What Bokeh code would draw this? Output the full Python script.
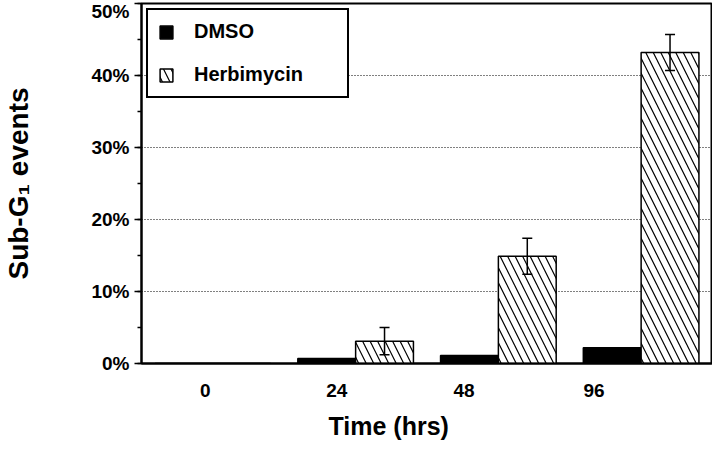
from bokeh.plotting import figure
from bokeh.models import (ColumnDataSource, Range1d, FixedTicker, SingleIntervalTicker,
                          PrintfTickFormatter, Whisker, TeeHead, Legend, LegendItem, Title)
from bokeh.embed import file_html
from bokeh.resources import INLINE

# ---- data ----
times = ["0", "24", "48", "96"]
dmso = [0.0, 0.7, 1.1, 2.2]
herb = [0.0, 3.1, 14.9, 43.2]
herb_err = [0.0, 1.9, 2.5, 2.5]
y_ticks = [0, 10, 20, 30, 40, 50]
# tick label positions as drawn in the original (slightly left of the groups)
x_label_pos = [0.447, 1.368, 2.26, 3.17]

FONT = "Liberation Sans"
group_centers = [i + 0.5 for i in range(len(times))]
bw = 0.405

src = ColumnDataSource(dict(
    xd=[c - bw / 2 for c in group_centers],
    xh=[c + bw / 2 for c in group_centers],
    dmso=dmso, herb=herb,
))
err_idx = [i for i, e in enumerate(herb_err) if e > 0]
err_src = ColumnDataSource(dict(
    x=[group_centers[i] + bw / 2 for i in err_idx],
    upper=[herb[i] + herb_err[i] for i in err_idx],
    lower=[herb[i] - herb_err[i] for i in err_idx],
))

p = figure(width=712, height=444, output_backend="svg", toolbar_location=None,
           x_range=Range1d(0, 4), y_range=Range1d(0, 50),
           min_border_left=133, min_border_right=0, min_border_top=3, min_border_bottom=81)
p.background_fill_color = "white"
p.border_fill_color = "white"
p.outline_line_color = "black"
p.outline_line_width = 2

r_d = p.vbar(x="xd", top="dmso", bottom=0, width=bw, source=src,
             fill_color="black", line_color="black", line_width=1.5)
r_h = p.vbar(x="xh", top="herb", bottom=0, width=bw, source=src,
             fill_color="white", line_color="black", line_width=1.5,
             hatch_pattern="\\", hatch_color="black", hatch_scale=15, hatch_weight=1.2)

wh = Whisker(base="x", upper="upper", lower="lower", source=err_src, level="overlay",
             line_color="black", line_width=1.5,
             upper_head=TeeHead(size=10, line_color="black", line_width=1.5),
             lower_head=TeeHead(size=10, line_color="black", line_width=1.5))
p.add_layout(wh)

# grid
p.xgrid.visible = False
p.ygrid.grid_line_color = "black"
p.ygrid.grid_line_dash = "1 2"
p.ygrid.grid_line_width = 1
p.ygrid.ticker = FixedTicker(ticks=y_ticks)

# y axis
p.yaxis.ticker = SingleIntervalTicker(interval=10, num_minor_ticks=2)
p.yaxis.formatter = PrintfTickFormatter(format="%d%%")
p.yaxis.axis_line_width = 2
p.yaxis.axis_line_color = "black"
p.yaxis.major_tick_in = 0
p.yaxis.major_tick_out = 7
p.yaxis.minor_tick_in = 0
p.yaxis.minor_tick_out = 4
p.yaxis.major_tick_line_width = 1.5
p.yaxis.minor_tick_line_width = 1.5
p.yaxis.major_tick_line_color = "black"
p.yaxis.minor_tick_line_color = "black"
p.yaxis.major_label_text_font = FONT
p.yaxis.major_label_text_font_style = "bold"
p.yaxis.major_label_text_font_size = "19px"
p.yaxis.major_label_text_color = "black"
p.yaxis.major_label_standoff = 5
p.yaxis.axis_label = "Sub-G\u2081 events"
p.yaxis.axis_label_text_font = FONT
p.yaxis.axis_label_text_font_style = "bold"
p.yaxis.axis_label_text_font_size = "28px"
p.yaxis.axis_label_text_color = "black"
p.yaxis.axis_label_standoff = 54

# x axis
p.xaxis.ticker = FixedTicker(ticks=x_label_pos)
p.xaxis.major_label_overrides = {x_label_pos[i]: t for i, t in enumerate(times)}
p.xaxis.axis_line_width = 2
p.xaxis.axis_line_color = "black"
p.xaxis.major_tick_line_color = None
p.xaxis.minor_tick_line_color = None
p.xaxis.major_tick_in = 0
p.xaxis.major_tick_out = 0
p.xaxis.major_label_text_font = FONT
p.xaxis.major_label_text_font_style = "bold"
p.xaxis.major_label_text_font_size = "19px"
p.xaxis.major_label_text_color = "black"
p.xaxis.major_label_standoff = 20
p.xaxis.axis_label = " "
p.xaxis.axis_label_text_font_size = "1px"
p.xaxis.axis_label_standoff = 6

t = Title(text="Time  (hrs)", align="left", offset=187, standoff=0,
          text_font=FONT, text_font_style="bold", text_font_size="25px", text_color="black")
p.add_layout(t, "below")

legend = Legend(items=[LegendItem(label="DMSO", renderers=[r_d]),
                       LegendItem(label="Herbimycin", renderers=[r_h])],
                location="top_left", margin=5, padding=10,
                glyph_width=16, glyph_height=16, label_height=16,
                label_width=143, label_standoff=20, spacing=20,
                label_text_font=FONT, label_text_font_style="bold",
                label_text_font_size="20px", label_text_color="black",
                border_line_color="black", border_line_width=2, border_line_alpha=1.0,
                background_fill_color="white", background_fill_alpha=1.0)
p.add_layout(legend)

open("out.html", "w").write(file_html(p, INLINE))
